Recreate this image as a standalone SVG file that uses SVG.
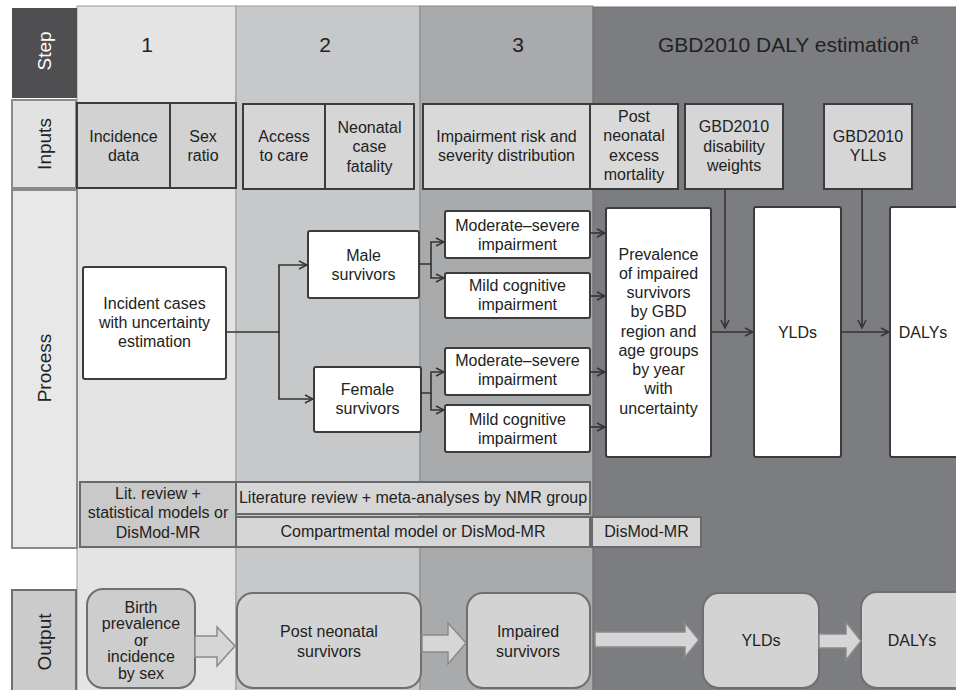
<svg xmlns="http://www.w3.org/2000/svg" width="956" height="690" viewBox="0 0 956 690">
<defs>
<style>
text{font-family:"Liberation Sans",Arial,sans-serif;fill:#222;font-size:16px;text-anchor:middle}
.lbl{font-size:19px}
.hdr{font-size:21px}
.in{stroke:#3c3c3c;stroke-width:2}
.pb{fill:#fff;stroke:#3c3c3c;stroke-width:2}
.mb{fill:#d6d6d6;stroke:#6a6a6a;stroke-width:2}
.ob{fill:#d3d3d3;stroke:#6f6f6f;stroke-width:2}
.ba{fill:#d6d6d6;stroke:#8a8a8a;stroke-width:1.5}
.cn{fill:none;stroke:#333;stroke-width:1.6}
</style>
<marker id="arr" viewBox="0 0 10 10" refX="9" refY="5" markerWidth="10" markerHeight="10" markerUnits="userSpaceOnUse" orient="auto">
<path d="M1,1 L9,5 L1,9" fill="none" stroke="#333" stroke-width="1.5"/>
</marker>
</defs>
<rect width="956" height="690" fill="#fff"/>
<g id="columns">
<rect x="77" y="6" width="159" height="690" fill="#e4e4e4" stroke="#9a9a9a" stroke-width="1"/>
<rect x="236" y="6" width="184" height="690" fill="#c7c8ca" stroke="#9a9a9a" stroke-width="1"/>
<rect x="420" y="6" width="173" height="690" fill="#a9aaac" stroke="#8a8a8a" stroke-width="1"/>
<rect x="593" y="7" width="370" height="690" fill="#7c7d80" stroke="#6e6e6e" stroke-width="1"/>
</g>
<g id="row-labels">
<rect x="12" y="8" width="65" height="90" fill="#4f4f51"/>
<text class="lbl" transform="translate(44,51) rotate(-90)" y="7" style="fill:#fff">Step</text>
<rect x="12" y="100" width="64" height="88" fill="#e2e2e2" stroke="#8a8a8a" stroke-width="2"/>
<text class="lbl" transform="translate(44,144) rotate(-90)" y="7">Inputs</text>
<rect x="12" y="190" width="65" height="358" fill="#e8e8e8" stroke="#8a8a8a" stroke-width="2"/>
<text class="lbl" transform="translate(44,368) rotate(-90)" y="7">Process</text>
<rect x="12" y="590" width="64" height="102" fill="#cbcbcb" stroke="#6f6f6f" stroke-width="2"/>
<text class="lbl" transform="translate(44,642) rotate(-90)" y="7">Output</text>
</g>
<g id="step-headers">
<text class="hdr" x="147" y="52">1</text>
<text class="hdr" x="325" y="52">2</text>
<text class="hdr" x="518" y="52">3</text>
<text class="hdr" x="658" y="52" style="text-anchor:start">GBD2010 DALY estimation<tspan font-size="14" dy="-8">a</tspan></text>
</g>
<g id="in-incidence"><rect class="in" x="77" y="103" width="93" height="85" fill="#d2d2d2"/><text x="123.5" y="141.5">Incidence</text><text x="123.5" y="160.5">data</text></g>
<g id="in-sex"><rect class="in" x="170" y="103" width="66" height="85" fill="#d2d2d2"/><text x="203" y="141.5">Sex</text><text x="203" y="160.5">ratio</text></g>
<g id="in-access"><rect class="in" x="243" y="104" width="82" height="85" fill="#d6d6d6"/><text x="284" y="141.5">Access</text><text x="284" y="160.5">to care</text></g>
<g id="in-fatality"><rect class="in" x="325" y="104" width="89" height="85" fill="#d6d6d6"/><text x="369.5" y="132.5">Neonatal</text><text x="369.5" y="152">case</text><text x="369.5" y="171.5">fatality</text></g>
<g id="in-impairment"><rect class="in" x="423" y="104" width="167" height="85" fill="#d9d9d9"/><text x="506.5" y="141.5">Impairment risk and</text><text x="506.5" y="160.5">severity distribution</text></g>
<g id="in-postneonatal"><rect class="in" x="590" y="104" width="88" height="85" fill="#d9d9d9"/><text x="634" y="121.5">Post</text><text x="634" y="141">neonatal</text><text x="634" y="160.5">excess</text><text x="634" y="179.5">mortality</text></g>
<g id="in-dw"><rect class="in" x="685" y="104" width="98" height="85" fill="#d6d6d6"/><text x="734" y="132">GBD2010</text><text x="734" y="151.5">disability</text><text x="734" y="170.5">weights</text></g>
<g id="in-ylls"><rect class="in" x="824" y="104" width="88" height="85" fill="#d6d6d6"/><text x="868" y="141.5">GBD2010</text><text x="868" y="160.5">YLLs</text></g>
<g id="p-incident"><rect class="pb" x="83" y="267" width="143" height="112" rx="2"/><text x="154.5" y="308.5">Incident cases</text><text x="154.5" y="327.5">with uncertainty</text><text x="154.5" y="346.5">estimation</text></g>
<g id="p-male"><rect class="pb" x="308" y="231" width="111" height="67" rx="2"/><text x="363.5" y="260.5">Male</text><text x="363.5" y="279.5">survivors</text></g>
<g id="p-female"><rect class="pb" x="314" y="367" width="107" height="65" rx="2"/><text x="367.5" y="394.5">Female</text><text x="367.5" y="413.5">survivors</text></g>
<g id="p-ms1"><rect class="pb" x="445" y="211" width="145" height="47" rx="2"/><text x="517.5" y="230.5">Moderate–severe</text><text x="517.5" y="249.5">impairment</text></g>
<g id="p-mc1"><rect class="pb" x="445" y="273" width="145" height="45" rx="2"/><text x="517.5" y="290.5">Mild cognitive</text><text x="517.5" y="309.5">impairment</text></g>
<g id="p-ms2"><rect class="pb" x="445" y="348" width="145" height="47" rx="2"/><text x="517.5" y="365.5">Moderate–severe</text><text x="517.5" y="384.5">impairment</text></g>
<g id="p-mc2"><rect class="pb" x="445" y="405" width="145" height="47" rx="2"/><text x="517.5" y="424.5">Mild cognitive</text><text x="517.5" y="443.5">impairment</text></g>
<g id="p-prevalence"><rect class="pb" x="606" y="208" width="105" height="249" rx="2"/>
<text x="658.5" y="259.5">Prevalence</text><text x="658.5" y="278.8">of impaired</text><text x="658.5" y="298">survivors</text><text x="658.5" y="317.3">by GBD</text><text x="658.5" y="336.5">region and</text><text x="658.5" y="355.8">age groups</text><text x="658.5" y="375">by year</text><text x="658.5" y="394.3">with</text><text x="658.5" y="413.5">uncertainty</text></g>
<g id="p-ylds"><rect class="pb" x="754" y="207" width="87" height="250" rx="2"/><text x="797.5" y="337.5">YLDs</text></g>
<g id="p-dalys"><rect class="pb" x="890" y="207" width="80" height="250" rx="2"/><text x="923" y="337.5">DALYs</text></g>
<g id="m-litreview"><rect class="mb" x="80" y="482" width="156" height="65" style="fill:#c9c9c9"/><text x="158" y="498.5">Lit. review +</text><text x="158" y="518">statistical models or</text><text x="158" y="537.5">DisMod-MR</text></g>
<g id="m-literature"><rect class="mb" x="236" y="482" width="354" height="32"/><text x="413" y="502.5">Literature review + meta-analyses by NMR group</text></g>
<g id="m-compartmental"><rect class="mb" x="236" y="517" width="354" height="30"/><text x="413" y="537">Compartmental model or DisMod-MR</text></g>
<g id="m-dismod"><rect class="mb" x="592" y="517" width="109" height="30"/><text x="646.5" y="537">DisMod-MR</text></g>
<g id="o-birth"><rect class="ob" x="87" y="589" width="108" height="99" rx="16" style="fill:#cdcdcd"/><text x="141" y="612.5">Birth</text><text x="141" y="629">prevalence</text><text x="141" y="645.5">or</text><text x="141" y="662">incidence</text><text x="141" y="678.5">by sex</text></g>
<g id="o-postneonatal"><rect class="ob" x="237" y="593" width="184" height="95" rx="16"/><text x="329" y="636.5">Post neonatal</text><text x="329" y="656.5">survivors</text></g>
<g id="o-impaired"><rect class="ob" x="467" y="593" width="123" height="95" rx="16"/><text x="528" y="636.5">Impaired</text><text x="528" y="656.5">survivors</text></g>
<g id="o-ylds"><rect class="ob" x="703" y="593" width="116" height="95" rx="16"/><text x="761" y="645.5">YLDs</text></g>
<g id="o-dalys"><rect class="ob" x="861" y="592" width="110" height="96" rx="16"/><text x="912" y="645.5">DALYs</text></g>
<g id="connectors">
<path class="cn" d="M226,332 H279 V265 H307" marker-end="url(#arr)"/>
<path class="cn" d="M279,332 V399 H313" marker-end="url(#arr)"/>
<path class="cn" d="M419,264 H431 V242 H444" marker-end="url(#arr)"/>
<path class="cn" d="M431,264 V278 H444" marker-end="url(#arr)"/>
<path class="cn" d="M421,393 H431 V372 H444" marker-end="url(#arr)"/>
<path class="cn" d="M431,393 V410 H444" marker-end="url(#arr)"/>
<path class="cn" d="M590,233 H605" marker-end="url(#arr)"/>
<path class="cn" d="M590,296 H605" marker-end="url(#arr)"/>
<path class="cn" d="M590,372 H605" marker-end="url(#arr)"/>
<path class="cn" d="M590,427 H605" marker-end="url(#arr)"/>
<path class="cn" d="M711,332 H753" marker-end="url(#arr)"/>
<path class="cn" d="M725,189 V328" marker-end="url(#arr)"/>
<path class="cn" d="M841,332 H889" marker-end="url(#arr)"/>
<path class="cn" d="M862,189 V328" marker-end="url(#arr)"/>
<path class="ba" d="M195,636 H217 V627 L235,646 L217,666 V657 H195 Z"/>
<path class="ba" d="M422,635 H448 V623 L466,643 L448,664 V652 H422 Z"/>
<path class="ba" d="M595,632 H685 V623 L699,640 L685,657 V647 H595 Z"/>
<path class="ba" d="M819,634 H846 V622 L861,641 L846,660 V648 H819 Z"/>
</g>
</svg>
